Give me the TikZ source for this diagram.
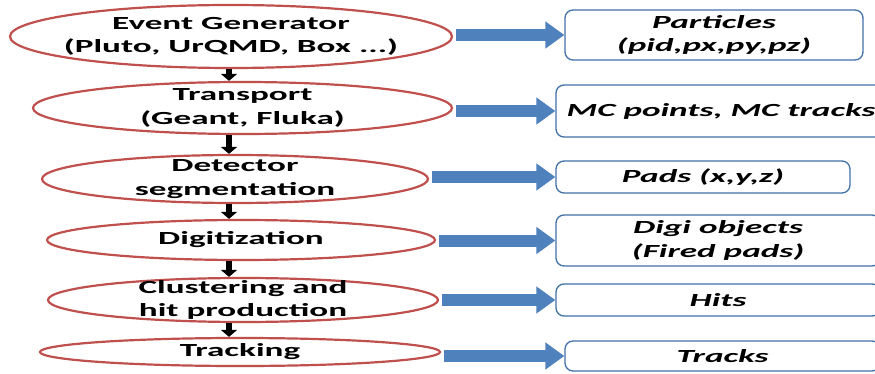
\documentclass[tikz,border=0pt]{standalone}
\usepackage{fontspec}
\setmainfont{Carlito}[FakeStretch=1.9]
\usetikzlibrary{arrows.meta,shapes.geometric}
\definecolor{stagered}{RGB}{192,80,77}
\definecolor{boxblue}{RGB}{65,113,166}
\definecolor{arrowblue}{RGB}{79,129,189}
\begin{document}
\begin{tikzpicture}[x=1pt, y=-1pt,
		stage/.style={draw=stagered, line width=2.2pt, ellipse, inner sep=0pt},
		stagetext/.style={font=\fontsize{18.5}{23.5}\selectfont\bfseries, align=center},
		result/.style={draw=boxblue, line width=1.3pt, rounded corners=8pt, inner sep=0pt, font=\fontsize{18.5}{23.5}\selectfont\bfseries\itshape, align=center},
		flowdown/.style={line width=5.5pt, -{Triangle[length=7pt, width=16pt]}},
		feedarrow/.style={arrowblue, line width=12pt, -{Triangle[length=19pt, width=26pt]}, shorten <=3pt}]
		\clip (0,0) rectangle (875,374);
		\fill[white] (0,0) rectangle (875,374);
		\coordinate (spine) at (229,0);

		\node[stage, minimum width=442, minimum height=63, label={[stagetext]center:Event Generator\\(Pluto, UrQMD, Box ...)}] (gen) at (231,36.5) {};
		\node[stage, minimum width=419, minimum height=52, label={[stagetext]center:Transport\\(Geant, Fluka)}] (trans) at (242.5,108) {};
		\node[stage, minimum width=386, minimum height=48, label={[stagetext]center:Detector\\segmentation}] (det) at (235,179) {};
		\node[stage, minimum width=388, minimum height=40, label={[stagetext]center:Digitization}] (digi) at (241,240) {};
		\node[stage, minimum width=390, minimum height=44, label={[stagetext]center:Clustering and\\hit production}] (clus) at (243,300) {};
		\node[stage, minimum width=400, minimum height=28, label={[stagetext]center:Tracking}] (track) at (240,352) {};

		\draw[flowdown] (gen.south -| spine) -- (trans.north -| spine);
		\draw[flowdown] (trans.south -| spine) -- (det.north -| spine);
		\draw[flowdown] (det.south -| spine) -- (digi.north -| spine);
		\draw[flowdown] (digi.south -| spine) -- (clus.north -| spine);
		\draw[flowdown] (clus.south -| spine) -- (track.north -| spine);

		\node[result, minimum width=298, minimum height=50] (part) at (714,35) {Particles\\(pid,px,py,pz)};
		\node[result, minimum width=330, minimum height=52] (mc) at (721,111) {MC points, MC tracks};
		\node[result, minimum width=294, minimum height=32] (pads) at (703,177) {Pads (x,y,z)};
		\node[result, minimum width=324, minimum height=51] (digiobj) at (718,240.5) {Digi objects\\(Fired pads)};
		\node[result, minimum width=324, minimum height=32] (hits) at (718,300) {Hits};
		\node[result, minimum width=315, minimum height=30] (tracks) at (722.5,356) {Tracks};

		\draw[feedarrow] (gen.east |- part.west) -- (part.west);
		\draw[feedarrow] (trans.east |- mc.west) -- (mc.west);
		\draw[feedarrow] (det.east |- pads.west) -- (pads.west);
		\draw[feedarrow] (digi.east |- digiobj.west) -- (digiobj.west);
		\draw[feedarrow] (clus.east |- hits.west) -- (hits.west);
		\draw[feedarrow] (track.east |- tracks.west) -- (tracks.west);
	\end{tikzpicture}
\end{document}
